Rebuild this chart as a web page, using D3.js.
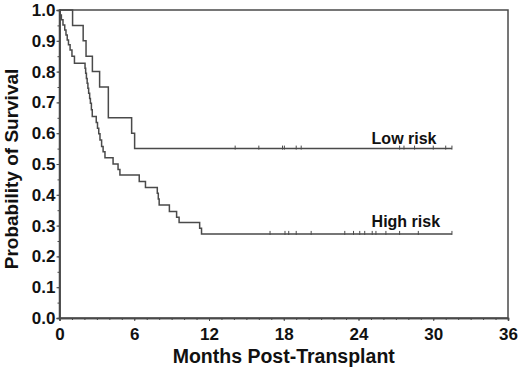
<!DOCTYPE html>
<html lang="en">
<head>
    <meta charset="UTF-8">
    <script src="https://d3js.org/d3.v7.min.js"></script>
    <title>Kaplan-Meier survival</title>
    <style>
        body { margin: 0; background: #fff; }
        text { font-family: "Liberation Sans", Arial, sans-serif; font-weight: bold; fill: #111; }
    </style>
</head>
<body>
    <script>
        // step curves: time (months) where the drop happens, survival after it
        var lowTimes = [0, 1.05, 1.9, 2.13, 2.64, 3.22, 3.92, 5.79, 6.03];
        var lowSurv = [1.0, 0.95, 0.90, 0.85, 0.80, 0.75, 0.65, 0.60, 0.55];
        var lowCensor = [14.1, 16.0, 17.9, 18.05, 19.0, 19.4, 27.3, 27.65, 28.5, 30.0, 31.0, 31.5];

        var highTimes = [0, 0.05, 0.15, 0.28, 0.42, 0.52, 0.62, 0.72, 0.85, 1.0,
                         1.2, 2.05, 2.1, 2.16, 2.22, 2.28, 2.34, 2.42, 2.48, 2.56,
                         2.63, 2.95, 3.05, 3.15, 3.25, 3.38, 3.5, 3.65, 4.3, 4.7,
                         4.85, 6.4, 6.9, 7.85, 7.93, 8.0, 8.82, 9.4, 9.6, 11.25, 11.4];
        var highSurv = [1.0, 0.984, 0.968, 0.951, 0.935, 0.919, 0.903, 0.887, 0.870, 0.850,
                        0.827, 0.811, 0.795, 0.778, 0.762, 0.746, 0.730, 0.713, 0.697, 0.676,
                        0.654, 0.635, 0.616, 0.598, 0.578, 0.557, 0.540, 0.520, 0.500, 0.482,
                        0.464, 0.443, 0.424, 0.405, 0.386, 0.367, 0.346, 0.327, 0.310, 0.291, 0.273];
        var highCensor = [16.9, 18.1, 18.4, 19.0, 20.2, 22.9, 23.6, 24.1, 24.5, 25.1, 25.4, 26.2, 27.3, 28.8, 31.5];

        var followUp = 31.5;
        var groupNames = ["Low risk", "High risk"];
        var xTicks = [0, 6, 12, 18, 24, 30, 36];
        var yTicks = [0, 0.1, 0.2, 0.3, 0.4, 0.5, 0.6, 0.7, 0.8, 0.9, 1.0];

        var width = 520, height = 369;
        var margin = {top: 10, right: 12, bottom: 51, left: 59.5};

        var svg = d3.select("body").append("svg").attr("width", width).attr("height", height);

        var x = d3.scaleLinear().domain([0, 36]).range([margin.left, width - margin.right]);
        var y = d3.scaleLinear().domain([0, 1]).range([height - margin.bottom, margin.top]);

        var stroke = "#4a4a4a";

        // frame
        svg.append("rect")
            .attr("x", x(0)).attr("y", y(1))
            .attr("width", x(36) - x(0)).attr("height", y(0) - y(1))
            .attr("fill", "none").attr("stroke", stroke).attr("stroke-width", 1.5);

        // x axis: minor ticks every month
        var xAxis = svg.append("g").attr("transform", "translate(0," + y(0) + ")")
            .call(d3.axisBottom(x).tickValues(xTicks).tickSize(3).tickPadding(7).tickFormat(d3.format("d")));
        svg.append("g").attr("transform", "translate(0," + y(0) + ")")
            .call(d3.axisBottom(x).tickValues(d3.range(0, 37, 1)).tickSize(2).tickFormat(""));

        var yAxis = svg.append("g").attr("transform", "translate(" + x(0) + ",0)")
            .call(d3.axisLeft(y).tickValues(yTicks).tickSize(3).tickPadding(1).tickFormat(d3.format(".1f")));
        svg.append("g").attr("transform", "translate(" + x(0) + ",0)")
            .call(d3.axisLeft(y).tickValues(d3.range(0, 1.001, 0.05)).tickSize(2).tickFormat(""));

        svg.selectAll(".domain").attr("stroke", stroke).attr("stroke-width", 1.5);
        svg.selectAll(".tick line").attr("stroke", stroke);
        xAxis.selectAll("text").style("font-size", "17px").attr("fill", "#111");
        yAxis.selectAll("text").style("font-size", "17px").attr("fill", "#111");

        var line = d3.line().x(d => x(d[0])).y(d => y(d[1])).curve(d3.curveStepAfter);

        function drawGroup(times, surv, censor, name, labelGap) {
            var pts = times.map((t, i) => [t, surv[i]]);
            var last = surv[surv.length - 1];
            pts.push([followUp, last]);
            svg.append("path").datum(pts).attr("d", line)
                .attr("fill", "none").attr("stroke", stroke).attr("stroke-width", 1.5);

            svg.selectAll(null).data(censor).enter().append("line")
                .attr("x1", d => x(d)).attr("x2", d => x(d))
                .attr("y1", y(last) - 3).attr("y2", y(last) + 1)
                .attr("stroke", stroke).attr("stroke-width", 1);

            svg.append("text").attr("x", x(25.05)).attr("y", y(last) - labelGap)
                .style("font-size", "16px").text(name);
        }

        drawGroup(lowTimes, lowSurv, lowCensor, groupNames[0], 5);
        drawGroup(highTimes, highSurv, highCensor, groupNames[1], 7);

        svg.append("text")
            .attr("x", (x(0) + x(36)) / 2).attr("y", 363)
            .attr("text-anchor", "middle").style("font-size", "19.5px")
            .text("Months Post-Transplant");

        svg.append("text")
            .attr("transform", "translate(18," + 169 + ") rotate(-90)")
            .attr("text-anchor", "middle").style("font-size", "19px")
            .text("Probability of Survival");
    </script>
</body>
</html>
